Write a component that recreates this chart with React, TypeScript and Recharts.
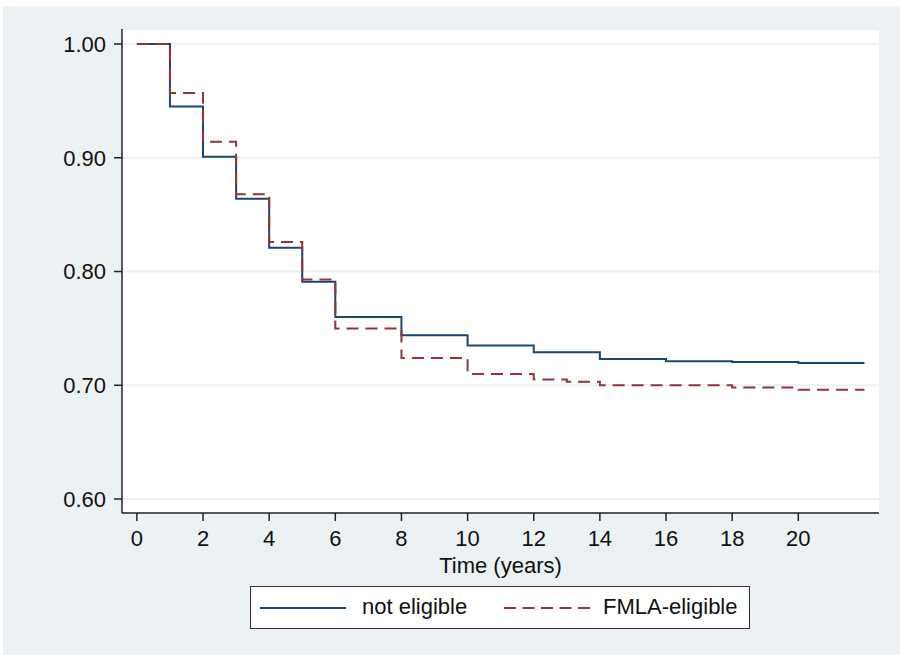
import React from 'react';
import { LineChart, Line, XAxis, YAxis, CartesianGrid, Legend } from 'recharts';

// Kaplan-Meier estimates (step changes at each time point)
const times = [0, 1, 2, 3, 4, 5, 6, 8, 10, 12, 13, 14, 16, 18, 20, 22];
const notEligible = [1.0, 0.945, 0.901, 0.864, 0.821, 0.791, 0.76, 0.744, 0.735, 0.729, 0.729, 0.723, 0.721, 0.7205, 0.7195, 0.7195];
const fmlaEligible = [1.0, 0.957, 0.914, 0.868, 0.826, 0.793, 0.75, 0.724, 0.71, 0.705, 0.703, 0.7, 0.7, 0.698, 0.696, 0.696];

const xTicks = [0, 2, 4, 6, 8, 10, 12, 14, 16, 18, 20];
const yTicks = [0.6, 0.7, 0.8, 0.9, 1.0];

const seriesNames = ['not eligible', 'FMLA-eligible'];

const data = times.map((t, i) => ({ t, ne: notEligible[i], fe: fmlaEligible[i] }));

const NAVY = '#1a476f';
const MAROON = '#90353b';
const BG = '#eaf2f3';
const AXIS = '#222';
const FONT = '"Liberation Sans", Arial, Helvetica, sans-serif';
const FS = 22;

function KmLegend() {
  return (
    <div style={{ position: 'relative', width: 500, height: 43, background: '#fff', border: '1px solid #333', boxSizing: 'border-box', fontFamily: FONT, fontSize: FS, color: '#111' }}>
      <svg width={86} height={6} style={{ position: 'absolute', left: 9, top: 18 }}>
        <line x1={0} y1={3} x2={86} y2={3} stroke={NAVY} strokeWidth={2} />
      </svg>
      <span style={{ position: 'absolute', left: 111, top: 8, lineHeight: '24px' }}>{seriesNames[0]}</span>
      <svg width={86} height={6} style={{ position: 'absolute', left: 253, top: 18 }}>
        <line x1={0} y1={3} x2={86} y2={3} stroke={MAROON} strokeWidth={2} strokeDasharray="12 6.5" />
      </svg>
      <span style={{ position: 'absolute', left: 352, top: 8, lineHeight: '24px' }}>{seriesNames[1]}</span>
    </div>
  );
}

export default function App() {
  return (
    <div style={{ position: 'absolute', left: 3, top: 6, width: 897, height: 649, background: BG, fontFamily: FONT }}>
      <LineChart width={897} height={649} data={data} margin={{ top: 23, right: 21, left: 39, bottom: 82 }}>
        <CartesianGrid vertical={false} stroke={BG} strokeWidth={2} fill="#ffffff" fillOpacity={1} />
        <XAxis
          dataKey="t"
          type="number"
          domain={[-0.45, 22.44]}
          ticks={xTicks}
          allowDataOverflow
          height={60}
          tickSize={8}
          tickMargin={9}
          stroke={AXIS}
          strokeWidth={1.5}
          tick={{ fill: '#111', fontSize: FS, fontFamily: FONT }}
          label={{ value: 'Time (years)', position: 'insideBottom', offset: 0, fill: '#111', fontSize: FS, fontFamily: FONT }}
        />
        <YAxis
          type="number"
          domain={[0.5877, 1.0132]}
          ticks={yTicks}
          allowDataOverflow
          width={80}
          tickSize={8}
          tickMargin={8}
          stroke={AXIS}
          strokeWidth={1.5}
          tickFormatter={(v: number) => v.toFixed(2)}
          tick={{ fill: '#111', fontSize: FS, fontFamily: FONT }}
        />
        <Legend
          layout="horizontal"
          verticalAlign="middle"
          align="center"
          wrapperStyle={{ position: 'absolute', left: 247, top: 580, width: 500, height: 43 }}
          content={() => <KmLegend />}
        />
        <Line type="stepAfter" dataKey="ne" name={seriesNames[0]} stroke={NAVY} strokeWidth={2} dot={false} isAnimationActive={false} />
        <Line type="stepAfter" dataKey="fe" name={seriesNames[1]} stroke={MAROON} strokeWidth={2} strokeDasharray="12 7" dot={false} isAnimationActive={false} />
      </LineChart>
    </div>
  );
}
